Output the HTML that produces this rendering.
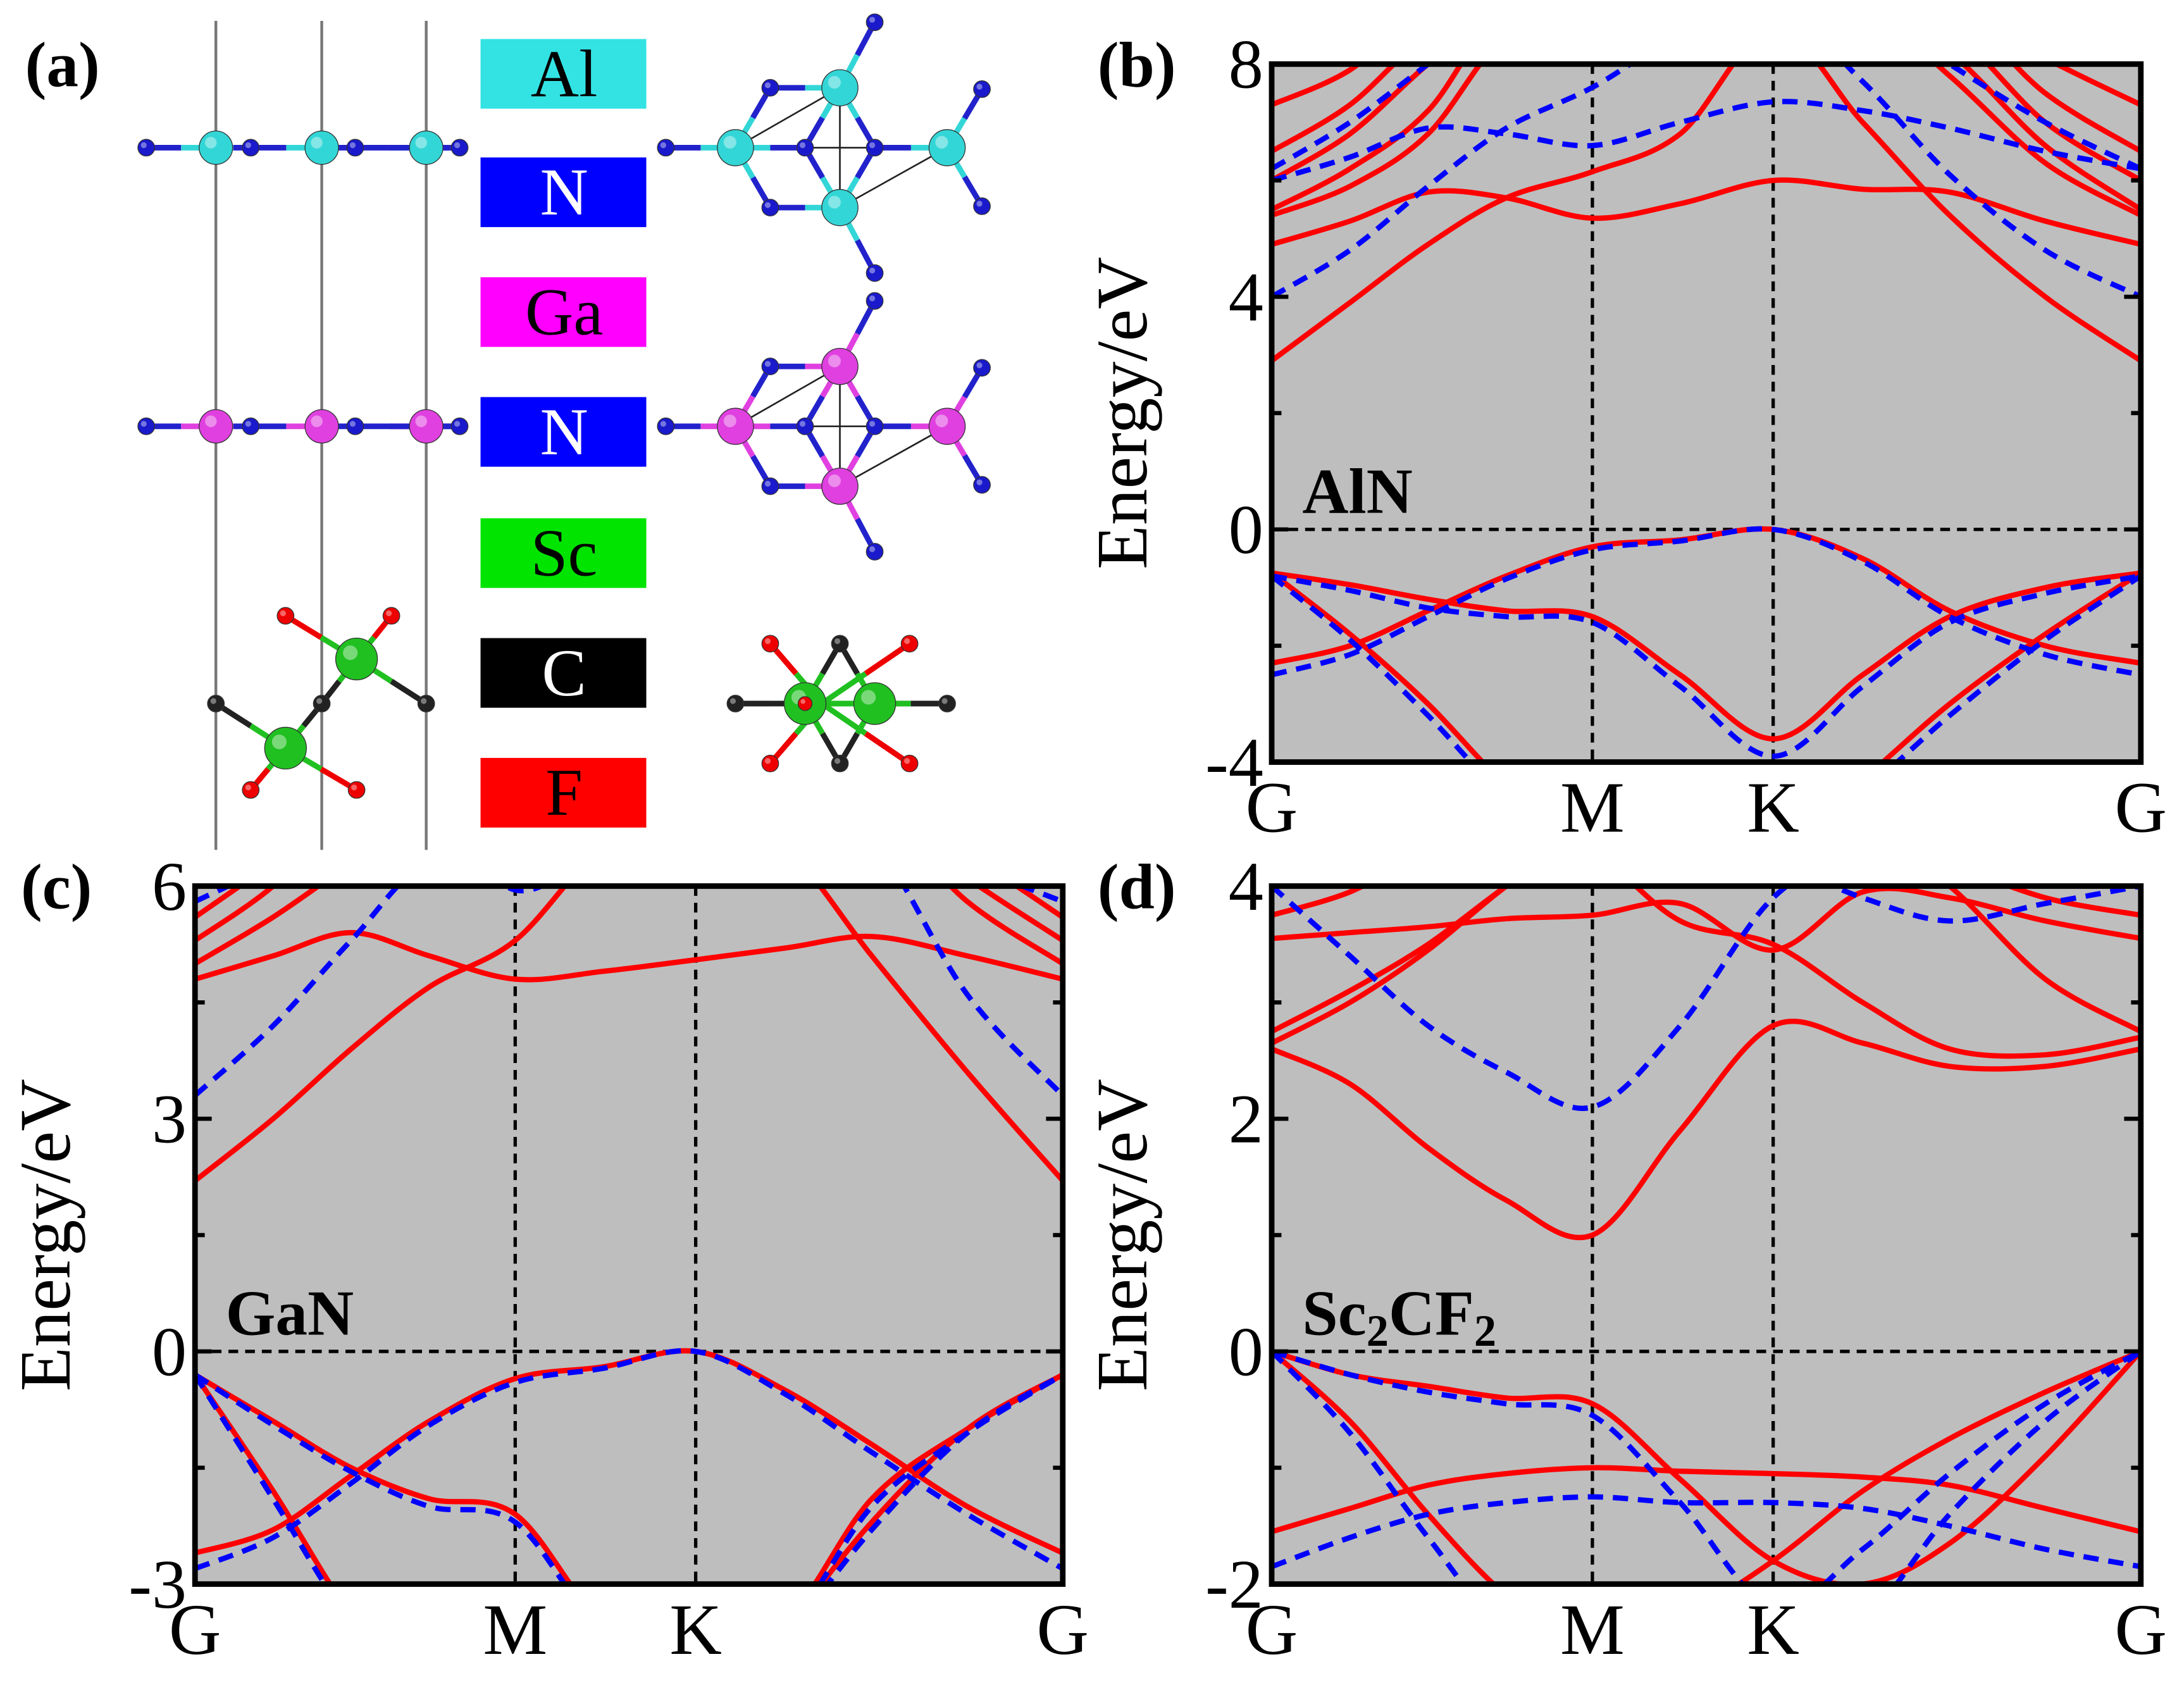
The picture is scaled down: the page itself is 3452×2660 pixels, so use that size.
<!DOCTYPE html>
<html><head><meta charset="utf-8"><style>
html,body{margin:0;padding:0;background:#fff}
svg{display:block}
text{font-family:"Liberation Serif",serif}
</style></head><body>
<svg id="fig" width="3452" height="2660" viewBox="0 0 1568 1208" preserveAspectRatio="none" font-family="Liberation Serif, serif" xmlns="http://www.w3.org/2000/svg">
<rect width="1568" height="1208" fill="#fff"/>
<g id="panelA">
<text x="18" y="62" font-size="46" font-weight="bold">(a)</text>
<line x1="155" y1="15" x2="155" y2="610" stroke="#777" stroke-width="2"/>
<line x1="231" y1="15" x2="231" y2="610" stroke="#777" stroke-width="2"/>
<line x1="306" y1="15" x2="306" y2="610" stroke="#777" stroke-width="2"/>
<g>
<rect x="345" y="28" width="119" height="50" fill="#33e3e3"/><text x="405" y="69" font-size="48" text-anchor="middle" fill="#000">Al</text>
<rect x="345" y="113" width="119" height="50" fill="#0000ff"/><text x="405" y="154" font-size="48" text-anchor="middle" fill="#fff">N</text>
<rect x="345" y="199" width="119" height="50" fill="#ff00ff"/><text x="405" y="240" font-size="48" text-anchor="middle" fill="#000">Ga</text>
<rect x="345" y="285" width="119" height="50" fill="#0000ff"/><text x="405" y="326" font-size="48" text-anchor="middle" fill="#fff">N</text>
<rect x="345" y="372" width="119" height="50" fill="#00e400"/><text x="405" y="413" font-size="48" text-anchor="middle" fill="#000">Sc</text>
<rect x="345" y="458" width="119" height="50" fill="#000"/><text x="405" y="499" font-size="48" text-anchor="middle" fill="#fff">C</text>
<rect x="345" y="544" width="119" height="50" fill="#ff0000"/><text x="405" y="585" font-size="48" text-anchor="middle" fill="#000">F</text>
</g>
<g id="atoms"></g>
</g>
<g id="plots"></g>
</svg>
<script>
const kGrid=[0,0.09,0.18,0.27,0.369,0.47,0.577,0.68,0.78,0.89,1];
const kLabels=["G","M","K","G"];
const kLabelPos=[0,0.369,0.577,1];
// ---------- AlN ----------
const alnTicks=["8","4","0","-4"];
const alnRed=[
[-2.3,-2.0,-1.4,-0.8,-0.3,-0.18,0,-0.5,-1.4,-2.0,-2.3],
[-0.75,-0.95,-1.2,-1.4,-1.5,-2.5,-3.6,-2.5,-1.5,-1.0,-0.75],
[-0.75,-1.8,-3.0,-4.4,-5.5,-5.5,-5.5,-4.3,-3.0,-1.8,-0.75],
[2.9,3.9,4.9,5.7,6.15,6.8,8.6,7.0,5.4,4.0,2.9],
[4.9,5.3,5.8,5.7,5.35,5.6,6.0,5.85,5.8,5.3,4.9],
[5.4,5.9,6.8,8.5,9,9,9,9,7.8,6.3,5.4],
[5.5,6.2,7.2,9,9,9,9,9,8.2,6.6,5.5],
[6.0,6.8,8.0,9,9,9,9,9,8.6,7.0,6.0],
[6.5,7.3,8.5,9,9,9,9,9,9,7.5,6.5],
[7.3,7.9,9,9,9,9,9,9,9,8.1,7.3]];
const alnBlue=[
[-2.5,-2.15,-1.5,-0.85,-0.35,-0.2,0,-0.55,-1.5,-2.15,-2.5],
[-0.8,-1.05,-1.35,-1.5,-1.6,-2.7,-3.9,-2.7,-1.6,-1.1,-0.8],
[-0.8,-1.9,-3.2,-4.6,-5.5,-5.5,-5.5,-4.5,-3.2,-1.9,-0.8],
[4.0,4.8,5.9,6.9,7.6,8.5,9,7.7,6.1,4.8,4.0],
[6.0,6.4,6.9,6.8,6.6,7.0,7.35,7.2,6.9,6.5,6.2],
[6.2,7.0,8.0,9,9,9,9,9,8.0,7.0,6.2]];
// ---------- GaN ----------
const ganTicks=["6","3","0","-3"];
const ganRed=[
[-2.6,-2.3,-1.6,-0.9,-0.35,-0.2,0,-0.5,-1.2,-2.0,-2.6],
[-0.3,-0.9,-1.5,-1.9,-2.1,-3.5,-4,-3.5,-1.9,-1.0,-0.3],
[-0.3,-1.8,-3.4,-4.5,-5,-5,-5,-3.6,-2.2,-1.0,-0.3],
[2.2,3.0,3.9,4.7,5.3,6.5,7,6.5,5.1,3.6,2.2],
[4.8,5.1,5.4,5.1,4.8,4.9,5.05,5.2,5.35,5.1,4.8],
[5.0,5.6,6.3,7,7,7,7,7,7,5.8,5.0],
[5.3,6.0,7,7,7,7,7,7,7,6.1,5.3],
[5.6,6.3,7,7,7,7,7,7,7,6.4,5.6]];
const ganBlue=[
[-2.8,-2.4,-1.7,-0.95,-0.4,-0.22,0,-0.55,-1.3,-2.1,-2.8],
[-0.3,-0.95,-1.55,-2.0,-2.2,-3.6,-4,-3.6,-2.0,-1.05,-0.3],
[-0.3,-1.9,-3.5,-4.5,-5,-5,-5,-3.7,-2.3,-1.05,-0.3],
[3.3,4.2,5.3,6.3,6.0,6.5,7,7,6.6,4.6,3.3],
[5.8,6.3,7,7,5.95,6.5,7,7,7,6.3,5.8]];
// ---------- Sc2CF2 ----------
const scTicks=["4","2","0","-2"];
const scRed=[
[2.6,2.3,1.75,1.3,1.0,1.9,2.8,2.65,2.45,2.45,2.6],
[2.65,3.0,3.45,4.0,4.5,4.5,4.5,4.5,4.5,4.5,4.5],
[4.5,4.5,4.5,4.5,4.3,3.7,3.5,3.0,2.6,2.55,2.7],
[2.75,3.1,3.5,4.0,4.5,4.5,4.5,4.5,4.0,3.2,2.75],
[3.55,3.6,3.65,3.72,3.75,3.85,3.45,3.95,3.9,3.7,3.55],
[3.75,3.95,4.3,4.5,4.5,4.5,4.5,4.5,4.2,3.9,3.75],
[0,-0.2,-0.3,-0.4,-0.45,-1.1,-1.8,-2.0,-1.65,-0.9,0],
[0,-0.6,-1.4,-2.1,-2.6,-2.3,-1.8,-1.2,-0.75,-0.35,0],
[-1.55,-1.35,-1.15,-1.05,-1.0,-1.03,-1.05,-1.08,-1.15,-1.35,-1.55]];
const scBlue=[
[4.0,3.4,2.8,2.4,2.1,2.8,3.9,4.3,4.3,4.3,4.3],
[4.3,4.3,4.3,4.3,4.3,4.3,4.2,3.9,3.7,3.85,4.0],
[0,-0.2,-0.35,-0.45,-0.55,-1.3,-2.2,-1.7,-1.05,-0.45,0],
[0,-0.7,-1.6,-2.4,-2.6,-2.6,-2.4,-2.3,-1.4,-0.6,0],
[-1.85,-1.6,-1.4,-1.3,-1.25,-1.3,-1.3,-1.35,-1.5,-1.7,-1.85]];

const NS="http://www.w3.org/2000/svg";
function mk(tag,attrs,parent){const e=document.createElementNS(NS,tag);for(const k in attrs)e.setAttribute(k,attrs[k]);parent.appendChild(e);return e;}

function drawPanel(cfg){
  const root=document.getElementById('plots');
  const g=mk('g',{},root);
  
  
  const x0=cfg.x0,x1=cfg.x1,y0=cfg.y0,y1=cfg.y1,emax=cfg.emax,emin=cfg.emin;
  const xs=t=>x0+t*(x1-x0);
  const ys=e=>y0+(emax-e)/(emax-emin)*(y1-y0);
  const cid='clip'+cfg.id;
  const cp=mk('clipPath',{id:cid},g);mk('rect',{x:x0,y:y0,width:x1-x0,height:y1-y0},cp);
  const bg=mk('rect',{x:x0,y:y0,width:x1-x0,height:y1-y0,fill:'#bebebe'},g);
  
  
  const cg=mk('g',{'clip-path':'url(#'+cid+')'},g);
  [kLabelPos[1],kLabelPos[2]].forEach(t=>{mk('line',{x1:xs(t),x2:xs(t),y1:y0,y2:y1,stroke:'#000','stroke-width':2.4,'stroke-dasharray':'7,5'},cg);});
  mk('line',{x1:x0,x2:x1,y1:ys(0),y2:ys(0),stroke:'#000','stroke-width':2.4,'stroke-dasharray':'7,5'},cg);
  function pathFor(vals){
    const P=kGrid.map((t,i)=>[xs(t),ys(vals[i])]);
    let d='M'+P[0][0].toFixed(1)+','+P[0][1].toFixed(1);
    for(let i=0;i<P.length-1;i++){
      const p0=P[Math.max(0,i-1)],p1=P[i],p2=P[i+1],p3=P[Math.min(P.length-1,i+2)];
      const c1=[p1[0]+(p2[0]-p0[0])/6,p1[1]+(p2[1]-p0[1])/6];
      const c2=[p2[0]-(p3[0]-p1[0])/6,p2[1]-(p3[1]-p1[1])/6];
      d+=' C'+c1[0].toFixed(1)+','+c1[1].toFixed(1)+' '+c2[0].toFixed(1)+','+c2[1].toFixed(1)+' '+p2[0].toFixed(1)+','+p2[1].toFixed(1);
    }
    return d;
  }
  cfg.red.forEach((b,i)=>{const p=mk('path',{d:pathFor(b),fill:'none',stroke:'#ff0000','stroke-width':3.8},cg);
    
    });
  cfg.blue.forEach((b,i)=>{const p=mk('path',{d:pathFor(b),fill:'none',stroke:'#0000ff','stroke-width':3.8,'stroke-dasharray':'11,7'},cg);
    
    });
  mk('rect',{x:x0,y:y0,width:x1-x0,height:y1-y0,fill:'none',stroke:'#000','stroke-width':4},g);
  const n=cfg.ticks.length;
  for(let i=0;i<n;i++){
    const v=emax-(emax-emin)*i/(n-1);const y=ys(v);
    mk('line',{x1:x0,x2:x0+12,y1:y,y2:y,stroke:'#000','stroke-width':3},g);
    mk('line',{x1:x1,x2:x1-12,y1:y,y2:y,stroke:'#000','stroke-width':3},g);
    if(i<n-1){const ym=ys(v-(emax-emin)/(n-1)/2);
      mk('line',{x1:x0,x2:x0+7,y1:ym,y2:ym,stroke:'#000','stroke-width':3},g);
      mk('line',{x1:x1,x2:x1-7,y1:ym,y2:ym,stroke:'#000','stroke-width':3},g);}
    const tx=mk('text',{x:x0-6,y:y+17,'font-size':50,'text-anchor':'end'},g);tx.textContent=cfg.ticks[i];
    
    
  }
  kLabels.forEach((l,i)=>{const t=mk('text',{x:xs(kLabelPos[i]),y:y1+50,'font-size':52,'text-anchor':'middle'},g);t.textContent=l;
    
    });
  const yt=mk('text',{x:0,y:0,'font-size':52,'text-anchor':'middle',transform:'translate('+(x0-90)+','+((y0+y1)/2)+') rotate(-90)'},g);
  yt.textContent='Energy/eV';
  
  
  const pl=mk('text',{x:x0-125,y:y0+16,'font-size':46,'font-weight':'bold'},g);pl.textContent=cfg.label;
  
  
  const ml=mk('text',{x:x0+22,y:ys(0)-12,'font-size':46,'font-weight':'bold'},g);
  cfg.mat.forEach(seg=>{const ts=mk('tspan',{},ml);ts.textContent=seg[0];
    if(seg[1]){ts.setAttribute('font-size','32');ts.setAttribute('dy','8');}
    else if(seg[2]){ts.setAttribute('dy','-8');}});
  
  
}
drawPanel({id:'b',name:'aln-band-panel',label:'(b)',mat:[['AlN',0,0]],x0:913,x1:1537,y0:46,y1:547,emax:8,emin:-4,ticks:alnTicks,red:alnRed,blue:alnBlue});
drawPanel({id:'c',name:'gan-band-panel',label:'(c)',mat:[['GaN',0,0]],x0:140,x1:763,y0:636,y1:1137,emax:6,emin:-3,ticks:ganTicks,red:ganRed,blue:ganBlue});
drawPanel({id:'d',name:'sc2cf2-band-panel',label:'(d)',mat:[['Sc',0,0],['2',1,0],['CF',0,1],['2',1,0]],x0:913,x1:1537,y0:636,y1:1137,emax:4,emin:-2,ticks:scTicks,red:scRed,blue:scBlue});

const A=document.getElementById('atoms');
function bond(ax,ay,bx,by,c1,c2){const mx=(ax+bx)/2,my=(ay+by)/2;
  mk('line',{x1:ax,y1:ay,x2:mx,y2:my,stroke:c1,'stroke-width':4},A);mk('line',{x1:mx,y1:my,x2:bx,y2:by,stroke:c2,'stroke-width':4},A);}
function atom(x,y,r,c){mk('circle',{cx:x,cy:y,r:r,fill:c,stroke:'#333','stroke-width':0.6},A);mk('circle',{cx:x-r*0.3,cy:y-r*0.3,r:r*0.35,fill:'#fff',opacity:0.4},A);}
function sideRow(y,c){for(let i=0;i<3;i++){const x=155+i*75.5;bond(x-50,y,x,y,'#2222cc',c);bond(x,y,x+25,y,c,'#2222cc');}
  bond(280,y,330,y,'#2222cc','#2222cc');
  [105,180,255,330].forEach(x=>atom(x,y,6,'#1a1acc'));[155,231,306].forEach(x=>atom(x,y,12,c));}
sideRow(106,'#33d6d6');sideRow(306,'#e040e0');
function topView(cy,c){
  const M=[[528,cy],[603,cy-43],[603,cy+43],[680,cy]];
  const Nn=[[478,cy],[628,cy-90],[628,cy+90],[705,cy-42],[705,cy+42],[553,cy-43],[553,cy+43],[578,cy],[628,cy]];
  mk('polygon',{points:M.map(p=>p.join(',')).join(' '),fill:'none',stroke:'#222','stroke-width':1.2},A);
  M.forEach(m=>Nn.forEach(nn=>{const d=Math.hypot(m[0]-nn[0],m[1]-nn[1]);if(d<55)bond(m[0],m[1],nn[0],nn[1],c,'#2222cc');}));
  Nn.forEach(nn=>atom(nn[0],nn[1],6,'#1a1acc'));M.forEach(m=>atom(m[0],m[1],13,c));}
topView(106,'#33d6d6');topView(306,'#e040e0');
bond(155,505,205,537,'#222','#20c020');bond(205,537,231,505,'#20c020','#222');bond(231,505,256,473,'#222','#20c020');bond(256,473,306,505,'#20c020','#222');
bond(205,537,180,567,'#20c020','#e00');bond(205,537,256,567,'#20c020','#e00');bond(256,473,205,442,'#20c020','#e00');bond(256,473,281,442,'#20c020','#e00');
[[155,505],[231,505],[306,505]].forEach(p=>atom(p[0],p[1],6,'#222'));
[[180,567],[256,567],[205,442],[281,442]].forEach(p=>atom(p[0],p[1],6,'#e00'));
atom(205,537,15,'#20c020');atom(256,473,15,'#20c020');
const sx=[[578,505],[628,505]];
[[528,505],[603,462],[603,548],[680,505]].forEach(cc=>sx.forEach(s=>bond(s[0],s[1],cc[0],cc[1],'#20c020','#222')));
[[553,462],[553,548],[653,462],[653,548]].forEach(f=>bond(590,505,f[0],f[1],'#20c020','#e00'));
[[528,505],[603,462],[603,548],[680,505]].forEach(p=>atom(p[0],p[1],6,'#222'));
[[553,462],[553,548],[653,462],[653,548]].forEach(p=>atom(p[0],p[1],6,'#e00'));
atom(578,505,15,'#20c020');atom(628,505,15,'#20c020');atom(578,505,5,'#e00');
</script>
</body></html>
